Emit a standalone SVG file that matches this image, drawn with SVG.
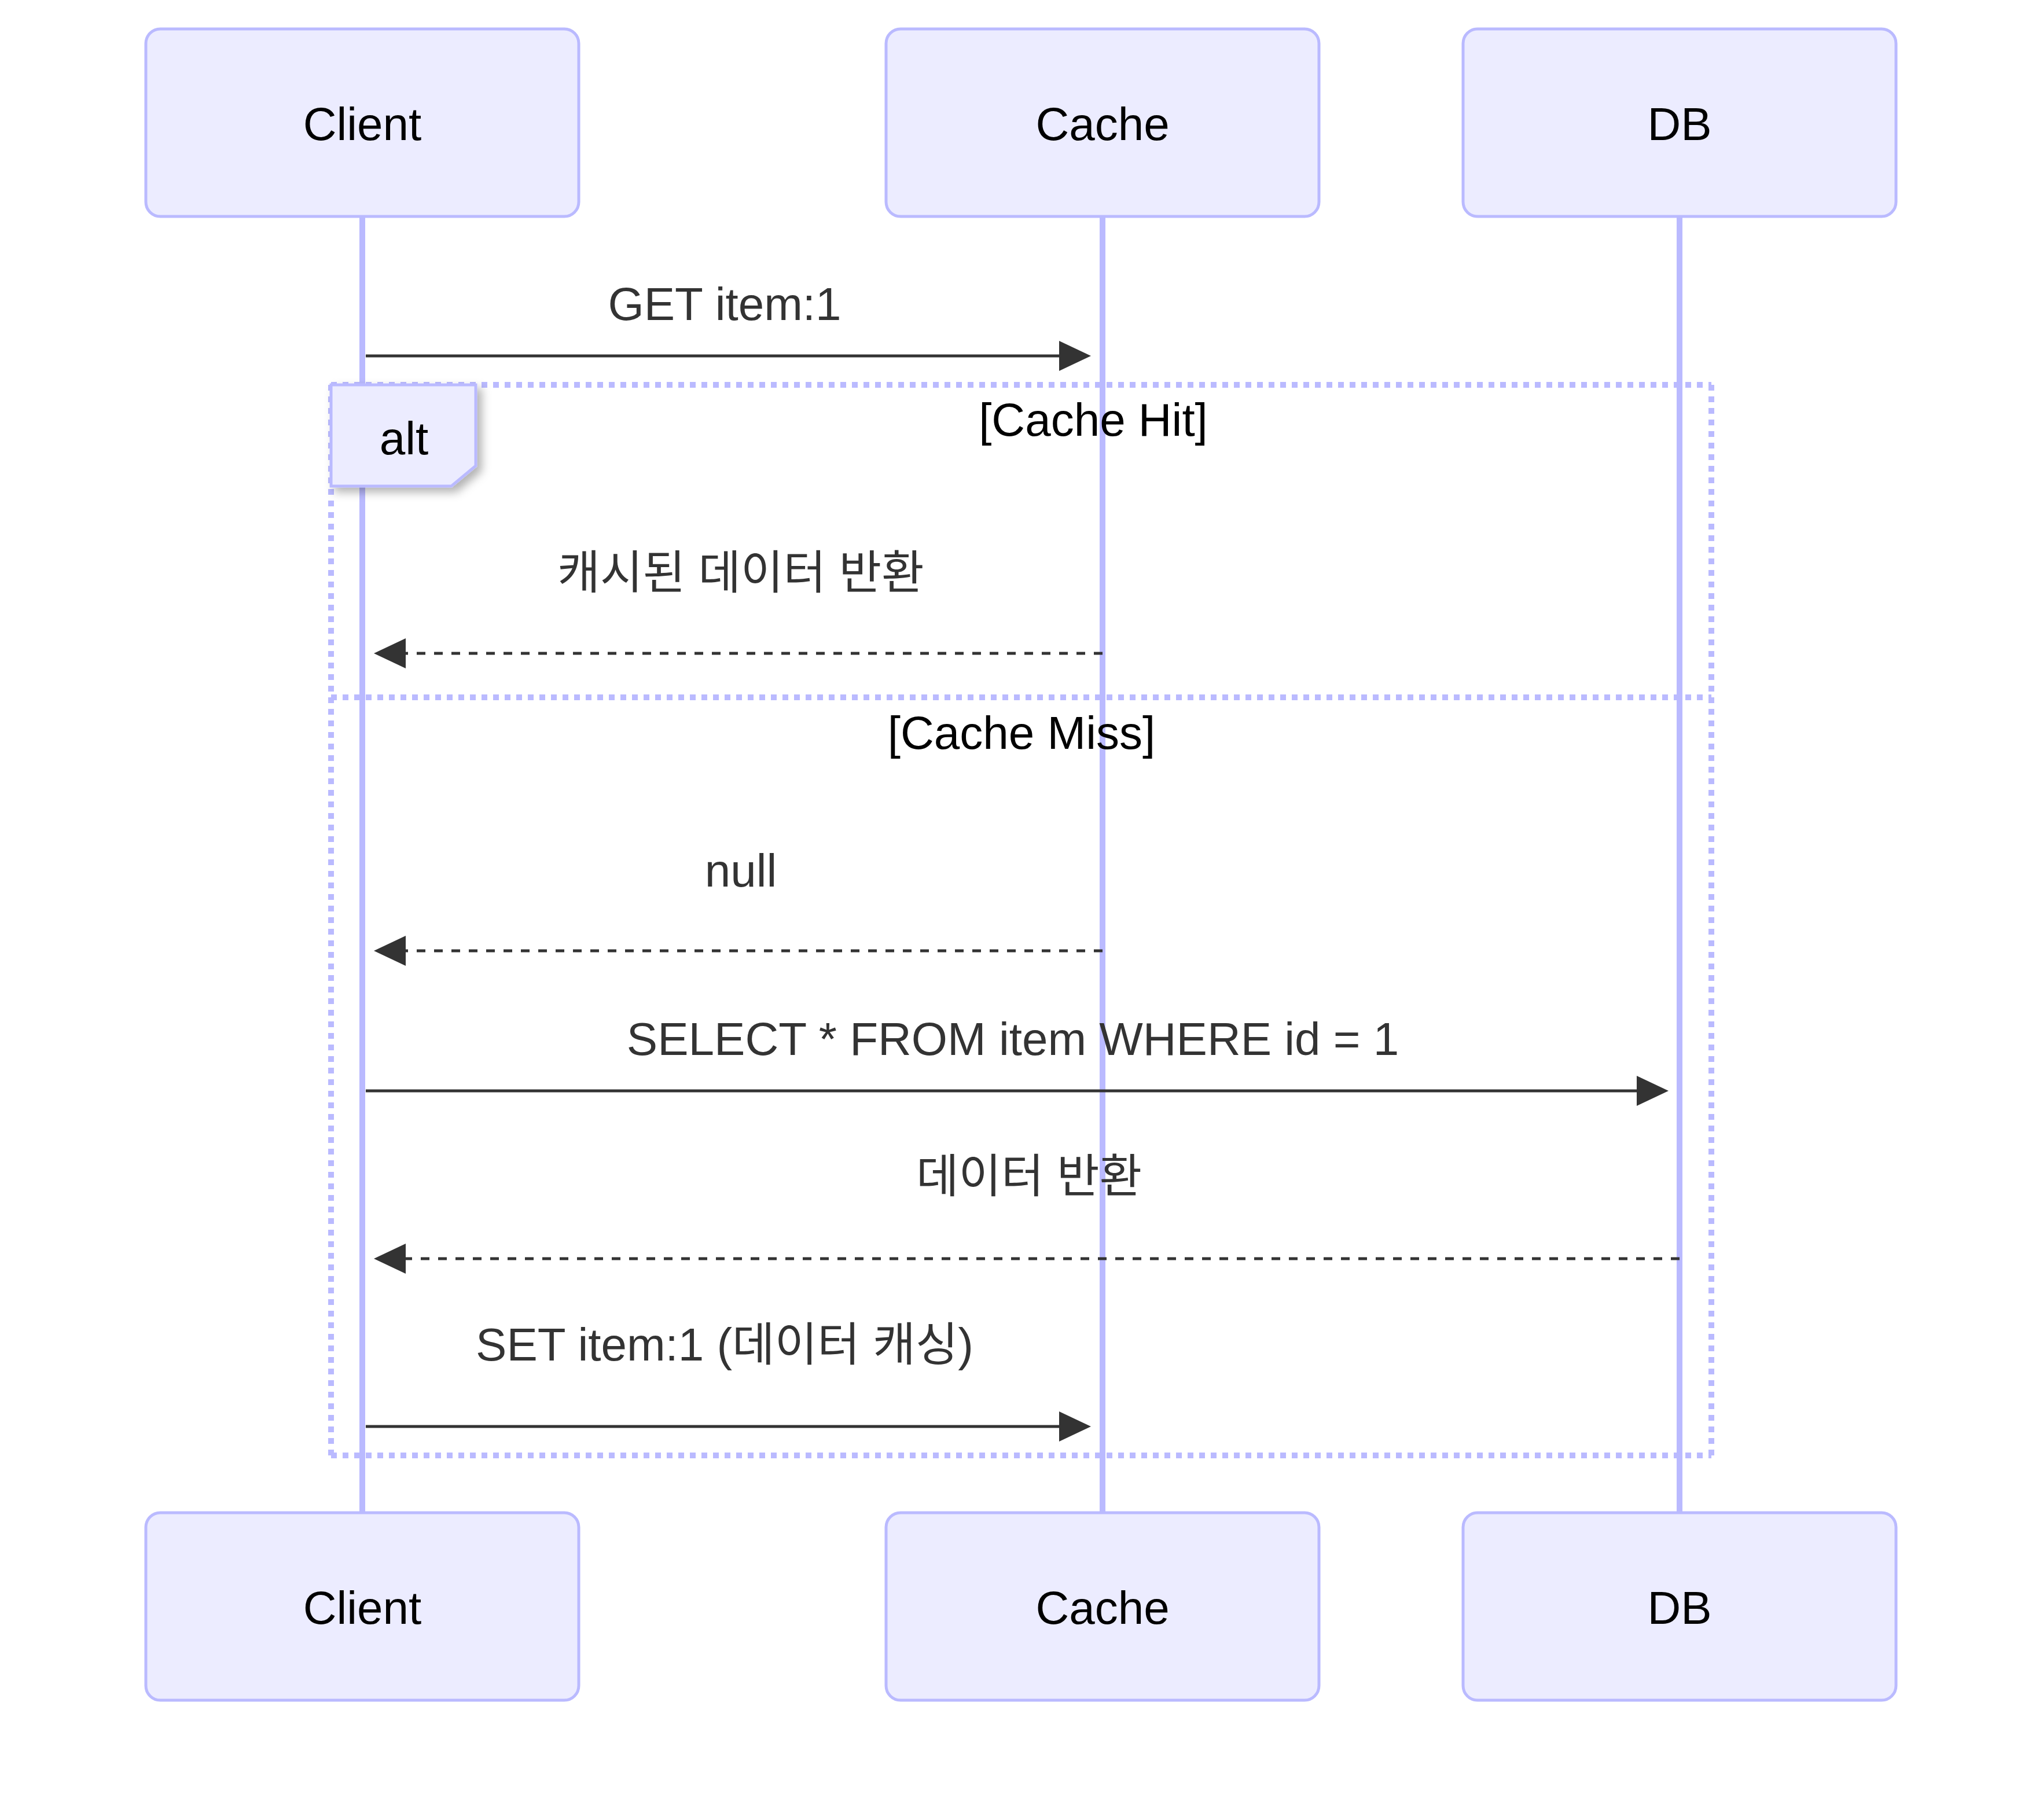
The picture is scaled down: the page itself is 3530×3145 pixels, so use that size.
<svg xmlns="http://www.w3.org/2000/svg" width="3530" height="3145" viewBox="0 0 3530 3145">
<style>
text{font-family:"Liberation Sans",Arial,"Noto Sans CJK KR",sans-serif;font-size:80px}
.actor{fill:#ECECFF;stroke:#BABAFF;stroke-width:5}
.atext{fill:#000;text-anchor:middle}
.life{stroke:#BABAFF;stroke-width:10}
.msg{stroke:#333;stroke-width:5;fill:none}
.dash{stroke-dasharray:15 15}
.mtext{fill:#333;text-anchor:middle}
.frame{stroke:#BABAFF;stroke-width:10;stroke-dasharray:10 10;fill:none}
.ltext{fill:#000;text-anchor:middle}
</style>
<defs>
<marker id="ah" markerUnits="userSpaceOnUse" markerWidth="56" markerHeight="54" refX="0" refY="26" orient="auto" overflow="visible">
<path d="M0,0 L55,26 L0,52 z" fill="#333"/>
</marker>
<filter id="sh" x="-20%" y="-20%" width="150%" height="150%">
<feDropShadow dx="8" dy="8" stdDeviation="8" flood-color="#000" flood-opacity="0.3"/>
</filter>
</defs>
<rect width="3530" height="3145" fill="#fff"/>
<g id="lifelines">
<line class="life" x1="626" y1="374" x2="626" y2="2614"/>
<line class="life" x1="1905" y1="374" x2="1905" y2="2614"/>
<line class="life" x1="2902" y1="374" x2="2902" y2="2614"/>
</g>
<g id="actor-client-top"><rect class="actor" x="252" y="50" width="748" height="324" rx="25"/><text class="atext" x="626" y="242">Client</text></g>
<g id="actor-cache-top"><rect class="actor" x="1531" y="50" width="748" height="324" rx="25"/><text class="atext" x="1905" y="242">Cache</text></g>
<g id="actor-db-top"><rect class="actor" x="2528" y="50" width="748" height="324" rx="25"/><text class="atext" x="2902" y="242">DB</text></g>
<g id="actor-client-bottom"><rect class="actor" x="252" y="2614" width="748" height="324" rx="25"/><text class="atext" x="626" y="2806">Client</text></g>
<g id="actor-cache-bottom"><rect class="actor" x="1531" y="2614" width="748" height="324" rx="25"/><text class="atext" x="1905" y="2806">Cache</text></g>
<g id="actor-db-bottom"><rect class="actor" x="2528" y="2614" width="748" height="324" rx="25"/><text class="atext" x="2902" y="2806">DB</text></g>
<g id="alt-frame">
<line class="frame" x1="572" y1="665" x2="2957" y2="665"/>
<line class="frame" x1="2957" y1="665" x2="2957" y2="2515"/>
<line class="frame" x1="572" y1="2515" x2="2957" y2="2515"/>
<line class="frame" x1="572" y1="665" x2="572" y2="2515"/>
<line class="frame" x1="572" y1="1205" x2="2957" y2="1205"/>
<polygon points="572,665 822,665 822,805 780,840 572,840" fill="#ECECFF" stroke="#BABAFF" stroke-width="5" filter="url(#sh)"/>
<text class="ltext" x="698" y="785">alt</text>
<text class="ltext" x="1889" y="753">[Cache Hit]</text>
<text class="ltext" x="1765" y="1294">[Cache Miss]</text>
</g>
<g id="connectors">
<line class="msg" x1="632" y1="615" x2="1830" y2="615" marker-end="url(#ah)"/>
<line class="msg dash" x1="1905" y1="1129" x2="701" y2="1129" marker-end="url(#ah)"/>
<line class="msg dash" x1="1905" y1="1643" x2="701" y2="1643" marker-end="url(#ah)"/>
<line class="msg" x1="632" y1="1885" x2="2828" y2="1885" marker-end="url(#ah)"/>
<line class="msg dash" x1="2902" y1="2175" x2="701" y2="2175" marker-end="url(#ah)"/>
<line class="msg" x1="632" y1="2465" x2="1830" y2="2465" marker-end="url(#ah)"/>
<text class="mtext" x="1252" y="553">GET item:1</text>
<text class="mtext" x="1280" y="1017">캐시된 데이터 반환</text>
<text class="mtext" x="1280" y="1532">null</text>
<text class="mtext" x="1750" y="1823">SELECT * FROM item WHERE id = 1</text>
<text class="mtext" x="1778" y="2060">데이터 반환</text>
<text class="mtext" x="1252" y="2351">SET item:1 (데이터 캐싱)</text>
</g>
</svg>
